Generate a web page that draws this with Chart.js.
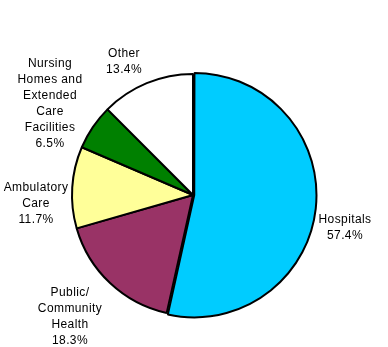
<!DOCTYPE html>
<html>
<head>
<meta charset="utf-8">
<script src="https://cdn.jsdelivr.net/npm/chart.js@4"></script>
<style>
  html, body { margin: 0; padding: 0; background: #fff; }
  #wrap { width: 388px; height: 347px; }
</style>
</head>
<body>
<div id="wrap"><canvas id="pie"></canvas></div>
<script>
// spending share by provider type
const categories = [
  ['Hospitals'],
  ['Public/', 'Community', 'Health'],
  ['Ambulatory', 'Care'],
  ['Nursing', 'Homes and', 'Extended', 'Care', 'Facilities'],
  ['Other']
];
const shares = [57.4, 18.3, 11.7, 6.5, 13.4];
const sliceColors = ['#00CCFF', '#993366', '#FFFF99', '#008000', '#FFFFFF'];

// where each text block sits (center x, first line y)
const labelAnchors = [
  [345, 220],
  [70, 293],
  [36, 188],
  [50, 64],
  [124, 54]
];

const sliceLabels = {
  id: 'sliceLabels',
  afterDatasetsDraw(chart) {
    const ctx = chart.ctx;
    ctx.save();
    ctx.font = '12px "Liberation Sans", Arial, sans-serif';
    ctx.letterSpacing = '0.4px';
    ctx.fillStyle = '#000';
    ctx.textAlign = 'center';
    ctx.textBaseline = 'middle';
    categories.forEach((lines, i) => {
      const [x, y] = labelAnchors[i];
      const all = lines.concat([shares[i].toFixed(1) + '%']);
      all.forEach((t, k) => ctx.fillText(t, x, y + k * 16));
    });
    ctx.restore();
  }
};

new Chart(document.getElementById('pie'), {
  type: 'pie',
  data: {
    labels: categories.map(l => l.join(' ')),
    datasets: [{
      data: shares,
      backgroundColor: sliceColors,
      borderColor: '#000',
      borderWidth: 2,
      offset: [5, 0, 0, 0, 0]
    }]
  },
  options: {
    responsive: true,
    maintainAspectRatio: false,
    animation: false,
    radius: 121,
    layout: { padding: { top: 43, bottom: 0, left: 0, right: 2 } },
    plugins: {
      legend: { display: false },
      tooltip: { enabled: false }
    }
  },
  plugins: [sliceLabels]
});
</script>
</body>
</html>
